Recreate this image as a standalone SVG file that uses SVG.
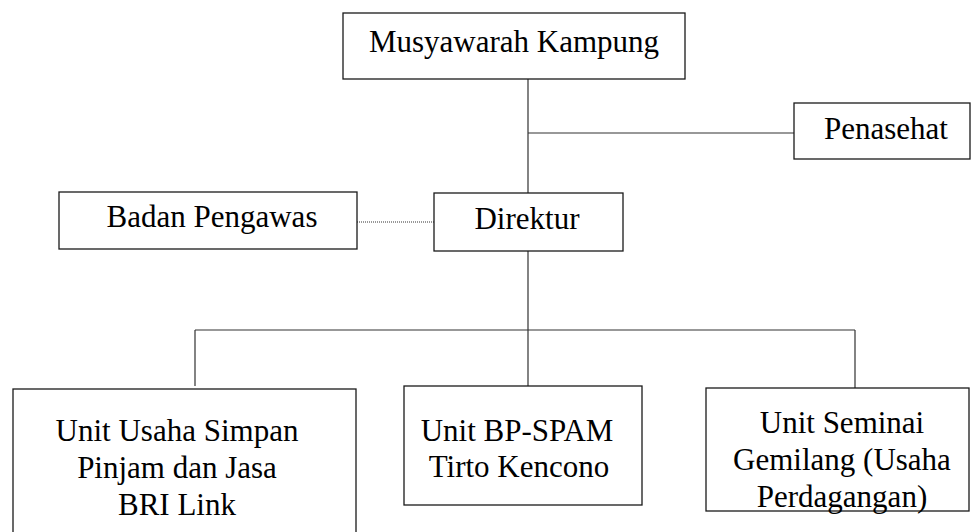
<svg xmlns="http://www.w3.org/2000/svg" width="971" height="532" viewBox="0 0 971 532">
<style>
.box{fill:#fff;stroke:#1a1a1a;stroke-width:1.3}
.ln{stroke:#333;stroke-width:1.2;fill:none}
.dot{stroke:#777;stroke-width:1.3;stroke-dasharray:1 1;fill:none}
.t{font-family:'Liberation Serif','Times New Roman','DejaVu Serif',serif;font-size:31px;fill:#000}
</style>
<rect width="971" height="532" fill="#fff"/>
<g id="connectors">
<path class="ln" d="M528 79V193M528 133H794M528 251V330M195 330H855M195 330V386M528 330V386M855 330V388"/>
<path class="dot" d="M357 222H434"/>
</g>
<g id="musyawarah"><rect class="box" x="343" y="13" width="342" height="66"/><text class="t" x="514" y="52" text-anchor="middle" font-size="31.5">Musyawarah Kampung</text></g>
<g id="penasehat"><rect class="box" x="794" y="103" width="176" height="56"/><text class="t" x="886" y="139" text-anchor="middle">Penasehat</text></g>
<g id="badan"><rect class="box" x="59" y="192" width="298" height="57"/><text class="t" x="212" y="227" text-anchor="middle">Badan Pengawas</text></g>
<g id="direktur"><rect class="box" x="434" y="193" width="189" height="58"/><text class="t" x="527" y="229" text-anchor="middle">Direktur</text></g>
<g id="unit1"><rect class="box" x="13" y="389" width="343" height="150"/><text class="t" text-anchor="middle"><tspan x="177" y="441">Unit Usaha Simpan</tspan><tspan x="177" y="478">Pinjam dan Jasa</tspan><tspan x="177" y="515">BRI Link</tspan></text></g>
<g id="unit2"><rect class="box" x="404" y="386" width="238" height="119"/><text class="t" text-anchor="middle"><tspan x="517" y="441">Unit BP-SPAM</tspan><tspan x="519" y="477">Tirto Kencono</tspan></text></g>
<g id="unit3"><rect class="box" x="706" y="388" width="263" height="123"/><text class="t" text-anchor="middle"><tspan x="842" y="433">Unit Seminai</tspan><tspan x="842" y="470">Gemilang (Usaha</tspan><tspan x="842" y="507">Perdagangan)</tspan></text></g>
</svg>
